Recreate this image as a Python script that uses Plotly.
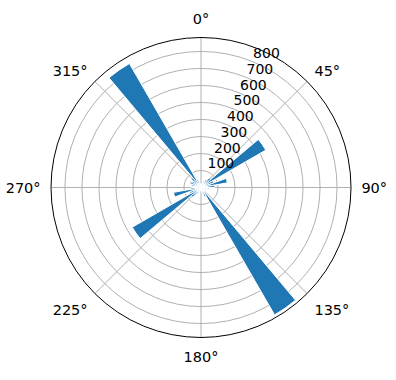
import plotly.graph_objects as go

bin_centers = [5, 15, 25, 35, 45, 55, 65, 75, 85, 95, 105, 115, 125, 135, 145, 155, 165, 175,
               185, 195, 205, 215, 225, 235, 245, 255, 265, 275, 285, 295, 305, 315, 325, 335, 345, 355]
counts = [15, 25, 40, 55, 75, 440, 80, 157, 80, 50, 35, 25, 30, 45, 865, 60, 35, 15,
          10, 20, 35, 50, 75, 467, 70, 164, 60, 40, 55, 70, 60, 75, 842, 50, 30, 20]
angle_ticks = [0, 45, 90, 135, 180, 225, 270, 315]
angle_labels = ["0°", "45°", "90°", "135°", "180°", "225°", "270°", "315°"]
r_ticks = [100, 200, 300, 400, 500, 600, 700, 800]
r_labels = [str(v) for v in r_ticks]
r_label_angle = 22.5

fig = go.Figure()
fig.add_trace(go.Barpolar(
    r=counts, theta=bin_centers, width=[10] * len(counts),
    marker=dict(color="#1f77b4", line=dict(width=1, color="white")),
    hoverinfo="skip",
))
fig.add_trace(go.Scatterpolar(
    r=r_ticks, theta=[r_label_angle] * len(r_ticks), mode="text",
    text=r_labels, textposition="top right",
    textfont=dict(family="DejaVu Sans", size=14, color="black"),
    hoverinfo="skip",
))

fig.update_layout(
    width=396, height=380,
    margin=dict(l=50.5, r=44.5, t=37, b=42),
    paper_bgcolor="white",
    showlegend=False,
    font=dict(family="DejaVu Sans", size=14, color="black"),
    polar=dict(
        bgcolor="white",
        bargap=0,
        angularaxis=dict(
            direction="clockwise", rotation=90,
            tickvals=angle_ticks, ticktext=angle_labels,
            showline=True, linecolor="black", linewidth=1,
            showgrid=True, gridcolor="#b0b0b0", gridwidth=0.8,
            ticks="outside", ticklen=7, tickcolor="rgba(0,0,0,0)",
            tickfont=dict(size=14.5),
        ),
        radialaxis=dict(
            range=[0, 882], tickvals=r_ticks, showticklabels=False,
            showline=False, ticks="",
            showgrid=True, gridcolor="#b0b0b0", gridwidth=0.8,
        ),
    ),
)

fig.write_html("out.html")
